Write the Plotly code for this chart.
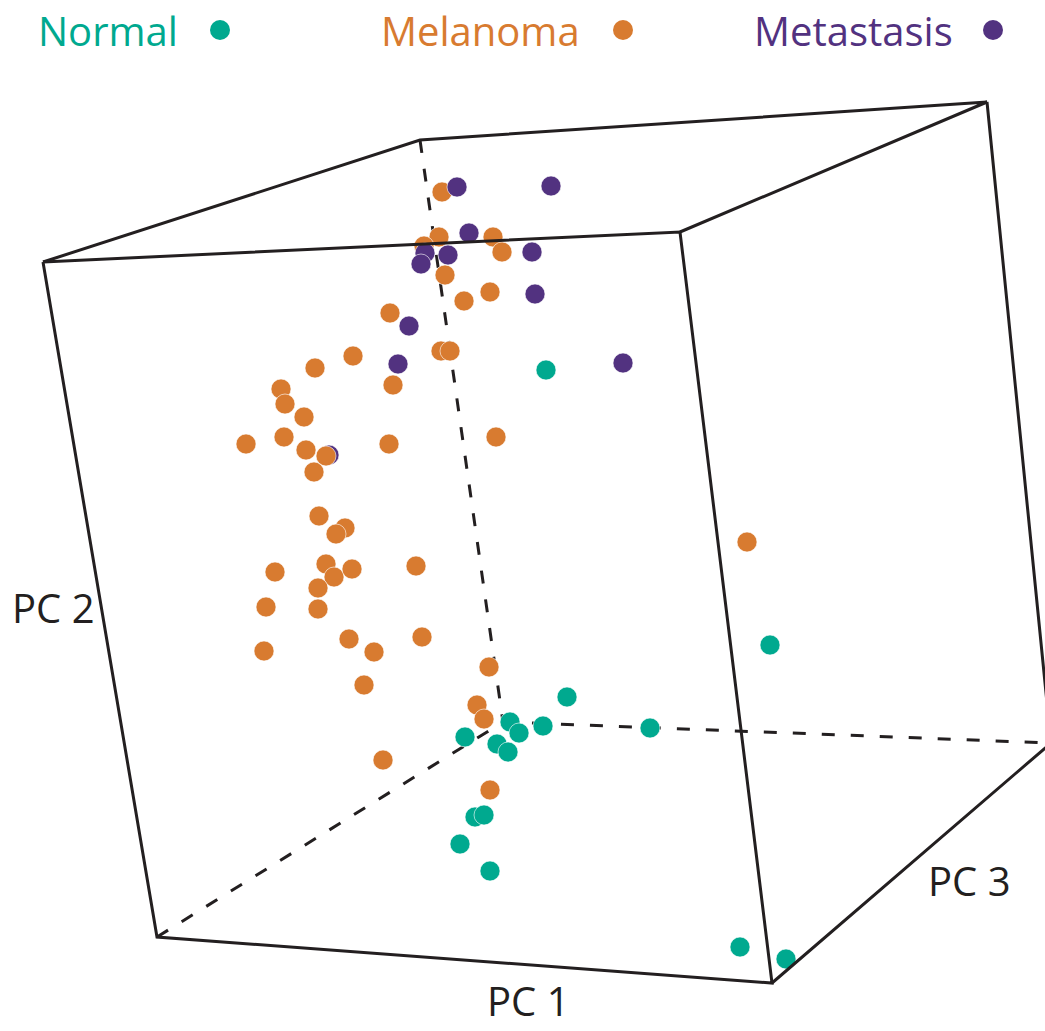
import plotly.graph_objects as go

# ---------------- data (projected PCA coordinates) ----------------
normal_x = [546, 770, 567, 510, 519, 543, 650, 465, 497, 508, 475, 484, 460, 490, 740, 786]
normal_y = [370, 645, 697, 722, 733, 726, 728, 737, 744, 752, 817, 815, 844, 871, 947, 959]

melanoma_x = [442, 439, 424, 493, 502, 445, 490, 464, 390, 441, 450, 353, 315, 393, 281, 285,
              304, 246, 284, 306, 326, 389, 496, 314, 319, 345, 336, 275, 326, 334, 352, 416,
              318, 266, 318, 349, 422, 264, 374, 364, 489, 477, 484, 383, 490, 747]
melanoma_y = [192, 237, 246, 237, 252, 275, 292, 301, 313, 351, 351, 356, 368, 385, 389, 404,
              417, 444, 437, 450, 456, 444, 437, 472, 516, 528, 534, 572, 564, 577, 569, 566,
              588, 607, 609, 639, 637, 651, 652, 685, 667, 705, 719, 760, 790, 542]

metastasis_x = [329, 457, 551, 469, 532, 425, 421, 448, 535, 409, 398, 623]
metastasis_y = [455, 187, 186, 233, 252, 253, 264, 255, 294, 326, 364, 363]
metastasis_behind = [0]  # index of the point hidden behind melanoma points

groups = ["Normal", "Melanoma", "Metastasis"]
colors = {"Normal": "#00A98F", "Melanoma": "#D87B30", "Metastasis": "#523280"}
axis_titles = ["PC 1", "PC 2", "PC 3"]

# ---------------- box geometry (projected cube) ----------------
FTL, FTR, FBR, FBL = (43, 262), (680, 232), (772, 983), (157, 937)
BTL, BTR, BBR, BBL = (420, 140), (987, 102), (1051, 743), (503, 722)


def segs(paths):
    xs, ys = [], []
    for p in paths:
        for (x, y) in p:
            xs.append(x)
            ys.append(y)
        xs.append(None)
        ys.append(None)
    return xs, ys


LINE = "#231F20"
fig = go.Figure()

# hidden (dashed) edges
dx, dy = segs([[BTL, BBL], [FBL, BBL], [BBL, BBR]])
fig.add_trace(go.Scatter(x=dx, y=dy, mode="lines", hoverinfo="skip", showlegend=False,
                         line=dict(color=LINE, width=3, dash="13px,16px")))

mk = dict(size=20, line=dict(width=0.6, color="white"))

# metastasis points that sit behind
fig.add_trace(go.Scatter(x=[metastasis_x[i] for i in metastasis_behind],
                         y=[metastasis_y[i] for i in metastasis_behind],
                         mode="markers", showlegend=False,
                         marker=dict(color=colors["Metastasis"], **mk)))
fig.add_trace(go.Scatter(x=melanoma_x, y=melanoma_y, mode="markers", name="Melanoma",
                         showlegend=False, marker=dict(color=colors["Melanoma"], **mk)))
fig.add_trace(go.Scatter(x=normal_x, y=normal_y, mode="markers", name="Normal",
                         showlegend=False, marker=dict(color=colors["Normal"], **mk)))
front_idx = [i for i in range(len(metastasis_x)) if i not in metastasis_behind]
fig.add_trace(go.Scatter(x=[metastasis_x[i] for i in front_idx],
                         y=[metastasis_y[i] for i in front_idx],
                         mode="markers", name="Metastasis", showlegend=False,
                         marker=dict(color=colors["Metastasis"], **mk)))

# visible (solid) edges
sx, sy = segs([[FTL, FTR, FBR, FBL, FTL], [FTL, BTL, BTR, FTR], [BTR, BBR, FBR]])
fig.add_trace(go.Scatter(x=sx, y=sy, mode="lines", hoverinfo="skip", showlegend=False,
                         line=dict(color=LINE, width=3)))

FONT = "Open Sans"
annotations = []
# legend (text followed by a dot)
legend_text_right = [180, 582, 955]
legend_dot_x = [220, 623, 993]
shapes = []
for g, xr, xd in zip(groups, legend_text_right, legend_dot_x):
    annotations.append(dict(x=xr, y=30, xref="x", yref="y", text=g, showarrow=False,
                            xanchor="right", yanchor="middle",
                            font=dict(family=FONT, size=40, color=colors[g])))
    shapes.append(dict(type="circle", xref="x", yref="y", x0=xd - 10, x1=xd + 10,
                       y0=20, y1=40, fillcolor=colors[g], line=dict(width=0)))

# axis titles
title_pos = [(528, 1030, "center", "bottom"), (10, 607, "left", "middle"),
             (969, 880, "center", "middle")]
for t, (x, y, xa, ya) in zip(axis_titles, title_pos):
    annotations.append(dict(x=x, y=y, xref="x", yref="y", text=t, showarrow=False,
                            xanchor=xa, yanchor=ya,
                            font=dict(family=FONT, size=40, color=LINE)))

fig.update_layout(
    width=1045, height=1031,
    margin=dict(l=0, r=0, t=0, b=0),
    paper_bgcolor="white", plot_bgcolor="white",
    xaxis=dict(range=[0, 1045], visible=False, fixedrange=True),
    yaxis=dict(range=[1031, 0], visible=False, fixedrange=True),
    annotations=annotations, shapes=shapes,
    showlegend=False,
)

fig.write_html(
    "out.html",
    config={"displayModeBar": False},
    post_script="document.body.style.margin='0';document.body.style.overflow='hidden';",
)
